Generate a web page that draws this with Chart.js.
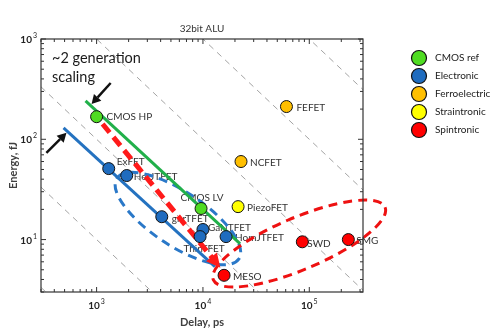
<!DOCTYPE html>
<html>
<head>
<meta charset="utf-8">
<script src="https://cdn.jsdelivr.net/npm/chart.js@4.4.0/dist/chart.umd.min.js"></script>
<style>
  html, body { margin: 0; padding: 0; background: #fff; }
  #wrap { width: 500px; height: 334px; position: relative; }
</style>
</head>
<body>
<div id="wrap"><canvas id="aluChart"></canvas></div>
<script>
// values
const categories = ['CMOS ref', 'Electronic', 'Ferroelectric', 'Straintronic', 'Spintronic'];
const devices = ['CMOS HP', 'CMOS LV', 'ExFET', 'HetJTFET', 'gnrTFET', 'GaNTFET', 'ThinTFET', 'HomJTFET',
                 'FEFET', 'NCFET', 'PiezoFET', 'MESO', 'SWD', 'SMG'];
const deviceCategory = [0, 0, 1, 1, 1, 1, 1, 1, 2, 2, 3, 4, 4, 4];
const delayPs = [1000, 9600, 1300, 1920, 4100, 10000, 9400, 16500, 61000, 22800, 21400, 15800, 86000, 233000];
const energyFj = [168, 20.4, 51, 43.5, 16.9, 12.6, 10.7, 10.7, 212, 60, 21.3, 4.4, 9.5, 10];

// trend lines: end points (delay ps, energy fJ)
const cmosTrendDelay = [787, 22300];
const cmosTrendEnergy = [241, 9.1];
const tfetTrendDelay = [489, 12970];
const tfetTrendEnergy = [130, 5.38];
const scalingDelay = [1139, 12200];
const scalingEnergy = [142, 6.6];

// constant energy*delay guides (fJ*ps)
const edpLevels = [1e3, 1e4, 1e5, 1e6, 1e7, 1e8];

const xTicks = [1e3, 1e4, 1e5];
const yTicks = [1e1, 1e2, 1e3];

const colors = ['#4fdc22', '#1f6cbf', '#ffbf00', '#ffff00', '#ff0000'];
const FONT = 'Lato, "DejaVu Sans", sans-serif';

// label placement next to each point: dx, dy (px), align
const labelPlace = {
    'CMOS HP': [10, 0, 'left'], 'CMOS LV': [1, -11, 'center'], 'ExFET': [8, -7, 'left'],
    'HetJTFET': [7, 1, 'left'], 'gnrTFET': [10, 2, 'left'], 'GaNTFET': [5, -2, 'left'],
    'ThinTFET': [4, 12, 'center'], 'HomJTFET': [9, 1, 'left'], 'FEFET': [10, 1, 'left'],
    'NCFET': [9, 1, 'left'], 'PiezoFET': [9, 1, 'left'], 'MESO': [9, 1, 'left'],
    'SWD': [5, 2, 'left'], 'SMG': [8, 1, 'left']
};

// dashed grouping ellipses: major axis end points in data units + half width in px
const groupEllipses = [
    { from: [1550, 40.9], to: [21800, 6.41], half: 27, color: '#2a78c8' },
    { from: [12530, 3.96], to: [516000, 21.0], half: 26, color: '#ee1111' }
];
// black pointer arrows (tail -> tip)
const pointers = [
    { from: [1356, 364], to: [897, 225] },
    { from: [337, 73], to: [521, 116] }
];

function toLine(xs, ys) {
    return xs.map((v, i) => ({ x: v, y: ys[i] }));
}

function drawArrow(ctx, x0, y0, x1, y1, color, width, headLen, headHalf) {
    const ang = Math.atan2(y1 - y0, x1 - x0);
    const bx = x1 - headLen * Math.cos(ang), by = y1 - headLen * Math.sin(ang);
    ctx.strokeStyle = color;
    ctx.lineWidth = width;
    ctx.setLineDash([]);
    ctx.beginPath();
    ctx.moveTo(x0, y0);
    ctx.lineTo(bx, by);
    ctx.stroke();
    ctx.fillStyle = color;
    ctx.beginPath();
    ctx.moveTo(x1, y1);
    ctx.lineTo(bx + headHalf * Math.sin(ang), by - headHalf * Math.cos(ang));
    ctx.lineTo(bx - headHalf * Math.sin(ang), by + headHalf * Math.cos(ang));
    ctx.closePath();
    ctx.fill();
}

const decor = {
    id: 'decor',
    beforeDatasetsDraw(chart) {
        const { ctx, chartArea: a, scales: { x, y } } = chart;
        // iso energy-delay guides
        ctx.save();
        ctx.beginPath();
        ctx.rect(a.left, a.top, a.right - a.left, a.bottom - a.top);
        ctx.clip();
        ctx.strokeStyle = '#8c8c8c';
        ctx.lineWidth = 0.8;
        ctx.setLineDash([6, 5]);
        edpLevels.forEach(p => {
            ctx.beginPath();
            ctx.moveTo(x.getPixelForValue(x.min), y.getPixelForValue(p / x.min));
            ctx.lineTo(x.getPixelForValue(x.max), y.getPixelForValue(p / x.max));
            ctx.stroke();
        });
        ctx.restore();

        // point labels
        ctx.save();
        ctx.font = '10px ' + FONT;
        ctx.fillStyle = '#333';
        ctx.textBaseline = 'middle';
        devices.forEach((name, i) => {
            const pl = labelPlace[name];
            ctx.textAlign = pl[2];
            ctx.fillText(name, x.getPixelForValue(delayPs[i]) + pl[0], y.getPixelForValue(energyFj[i]) + pl[1]);
        });
        ctx.restore();

        // grouping ellipses
        ctx.save();
        groupEllipses.forEach(e => {
            const x0 = x.getPixelForValue(e.from[0]), y0 = y.getPixelForValue(e.from[1]);
            const x1 = x.getPixelForValue(e.to[0]), y1 = y.getPixelForValue(e.to[1]);
            ctx.strokeStyle = e.color;
            ctx.lineWidth = 3;
            ctx.setLineDash([9, 6]);
            ctx.beginPath();
            ctx.ellipse((x0 + x1) / 2, (y0 + y1) / 2, Math.hypot(x1 - x0, y1 - y0) / 2, e.half,
                Math.atan2(y1 - y0, x1 - x0), 0, Math.PI * 2);
            ctx.stroke();
        });
        ctx.restore();
    },
    afterDatasetsDraw(chart) {
        const { ctx, chartArea: a, scales: { x, y } } = chart;
        ctx.save();
        // arrow head on the scaling line
        const sx0 = x.getPixelForValue(scalingDelay[0]), sy0 = y.getPixelForValue(scalingEnergy[0]);
        const sx1 = x.getPixelForValue(scalingDelay[1]), sy1 = y.getPixelForValue(scalingEnergy[1]);
        const len = Math.hypot(sx1 - sx0, sy1 - sy0);
        const tx = sx1 + 13 * (sx1 - sx0) / len, ty = sy1 + 13 * (sy1 - sy0) / len;
        drawArrow(ctx, sx1, sy1, tx, ty, '#ff1a1a', 0.1, 14, 7);

        pointers.forEach(p => {
            drawArrow(ctx, x.getPixelForValue(p.from[0]), y.getPixelForValue(p.from[1]),
                x.getPixelForValue(p.to[0]), y.getPixelForValue(p.to[1]), '#111', 2.5, 9, 5);
        });

        // frame with inward ticks
        ctx.strokeStyle = '#333';
        ctx.lineWidth = 1.2;
        ctx.setLineDash([]);
        ctx.strokeRect(a.left, a.top, a.right - a.left, a.bottom - a.top);
        ctx.lineWidth = 1;
        for (let d = 2; d <= 6; d++) {
            for (let k = 1; k <= 9; k++) {
                const v = k * Math.pow(10, d);
                if (v < x.min || v > x.max) continue;
                const p = x.getPixelForValue(v), l = k === 1 ? 5 : 3;
                ctx.beginPath();
                ctx.moveTo(p, a.bottom); ctx.lineTo(p, a.bottom - l);
                ctx.moveTo(p, a.top); ctx.lineTo(p, a.top + l);
                ctx.stroke();
            }
        }
        for (let d = 0; d <= 3; d++) {
            for (let k = 1; k <= 9; k++) {
                const v = k * Math.pow(10, d);
                if (v < y.min || v > y.max) continue;
                const p = y.getPixelForValue(v), l = k === 1 ? 5 : 3;
                ctx.beginPath();
                ctx.moveTo(a.left, p); ctx.lineTo(a.left + l, p);
                ctx.moveTo(a.right, p); ctx.lineTo(a.right - l, p);
                ctx.stroke();
            }
        }

        // decade tick labels with raised exponent
        ctx.fillStyle = '#222';
        ctx.textBaseline = 'alphabetic';
        const label = (v, cx, cy, align) => {
            const exp = String(Math.round(Math.log10(v)));
            ctx.font = 'bold 10px ' + FONT;
            const wb = ctx.measureText('10').width;
            ctx.font = '7px ' + FONT;
            const we = ctx.measureText(exp).width + 1;
            const left = align === 'right' ? cx - wb - we : cx - (wb + we) / 2;
            ctx.textAlign = 'left';
            ctx.font = 'bold 10px ' + FONT;
            ctx.fillText('10', left, cy + 4);
            ctx.font = '7px ' + FONT;
            ctx.fillText(exp, left + wb + 1, cy - 1);
        };
        xTicks.forEach(v => label(v, x.getPixelForValue(v), 305, 'center'));
        yTicks.forEach(v => label(v, 37, y.getPixelForValue(v), 'right'));

        // title and annotation text
        ctx.textAlign = 'center';
        ctx.textBaseline = 'middle';
        ctx.font = '10px ' + FONT;
        ctx.fillStyle = '#333';
        ctx.fillText('32bit ALU', (a.left + a.right) / 2, 29);
        ctx.textAlign = 'left';
        ctx.font = '14.5px ' + FONT;
        ctx.fillStyle = '#1a1a1a';
        ctx.fillText('~2 generation', 52, 58);
        ctx.fillText('scaling', 52, 77);

        // legend
        ctx.font = '10px ' + FONT;
        categories.forEach((c, i) => {
            const cy = 58 + i * 18;
            ctx.beginPath();
            ctx.arc(419, cy, 7.5, 0, Math.PI * 2);
            ctx.fillStyle = colors[i];
            ctx.fill();
            ctx.strokeStyle = '#111';
            ctx.lineWidth = 1.2;
            ctx.stroke();
            ctx.fillStyle = '#222';
            ctx.fillText(c, 435, cy);
        });
        ctx.restore();
    }
};

const lineStyle = { showLine: true, pointRadius: 0, fill: false, order: 5 };
const datasets = [
    Object.assign({ data: toLine(cmosTrendDelay, cmosTrendEnergy), borderColor: '#21b04a', borderWidth: 3 }, lineStyle),
    Object.assign({ data: toLine(tfetTrendDelay, tfetTrendEnergy), borderColor: '#2472c0', borderWidth: 3 }, lineStyle),
    Object.assign({ data: toLine(scalingDelay, scalingEnergy), borderColor: '#ff1a1a', borderWidth: 5, borderDash: [11, 6] }, lineStyle)
];
categories.forEach((c, ci) => {
    const pts = [];
    devices.forEach((d, i) => {
        if (deviceCategory[i] === ci) pts.push({ x: delayPs[i], y: energyFj[i] });
    });
    datasets.push({
        label: c,
        data: pts,
        backgroundColor: colors[ci],
        borderColor: '#111',
        borderWidth: 1,
        pointRadius: 6,
        order: 1
    });
});

new Chart(document.getElementById('aluChart'), {
    type: 'scatter',
    data: { datasets: datasets },
    options: {
        responsive: true,
        maintainAspectRatio: false,
        animation: false,
        events: [],
        layout: { padding: { top: 39, right: 137, bottom: 0, left: 0 } },
        plugins: { legend: { display: false }, tooltip: { enabled: false } },
        scales: {
            x: {
                type: 'logarithmic',
                min: 300,
                max: 320000,
                grid: { display: false, drawTicks: false },
                border: { display: false },
                ticks: { display: false },
                title: { display: true, text: 'Delay, ps', color: '#404040',
                         font: { family: FONT, size: 11, weight: 'bold' }, padding: { top: 0, bottom: 5 } },
                afterFit: s => { s.height = 42; }
            },
            y: {
                type: 'logarithmic',
                min: 3,
                max: 1000,
                grid: { display: false, drawTicks: false },
                border: { display: false },
                ticks: { display: false },
                title: { display: true, text: 'Energy, fJ', color: '#404040',
                         font: { family: FONT, size: 11, weight: 'bold' }, padding: { top: 7, bottom: 0 } },
                afterFit: s => { s.width = 41; }
            }
        }
    },
    plugins: [decor]
});
</script>
</body>
</html>
